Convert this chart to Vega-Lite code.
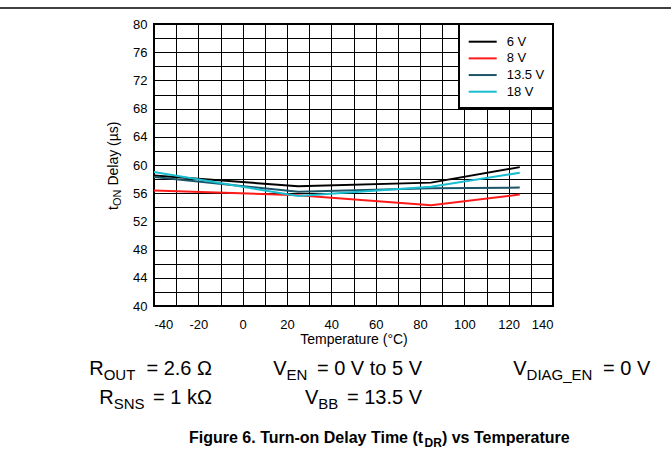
{
  "$schema": "https://vega.github.io/schema/vega-lite/v6.json",
  "width": 399,
  "height": 282,
  "autosize": {"type": "none"},
  "padding": {"left": 154, "top": 24, "right": 118, "bottom": 152},
  "background": "white",
  "config": {
    "font": "Liberation Sans",
    "view": {"stroke": "black", "strokeWidth": 2},
    "axis": {
      "domain": false,
      "grid": true,
      "gridColor": "black",
      "gridOpacity": 1,
      "gridWidth": 1,
      "ticks": false,
      "tickSize": 0,
      "labelColor": "black",
      "labelFontSize": 13,
      "labelOverlap": false,
      "titleColor": "black",
      "titleFontSize": 14,
      "titleFontWeight": "normal"
    },
    "axisX": {"tickCount": 18, "labelExpr": "datum.value % 20 === 0 ? '' + datum.value : ''", "labelPadding": 12, "titlePadding": 1},
    "axisY": {"tickCount": 20, "labelExpr": "datum.value % 4 === 0 ? '' + datum.value : ''", "labelPadding": 7},
    "text": {"color": "black"}
  },
  "layer": [
    {
      "data": {
        "values": [
          {"supply": "6 V", "temperature": -40, "delay": 58.5},
          {"supply": "6 V", "temperature": 25, "delay": 57.0},
          {"supply": "6 V", "temperature": 85, "delay": 57.5},
          {"supply": "6 V", "temperature": 125, "delay": 59.7},
          {"supply": "8 V", "temperature": -40, "delay": 56.4},
          {"supply": "8 V", "temperature": 25, "delay": 55.7},
          {"supply": "8 V", "temperature": 85, "delay": 54.3},
          {"supply": "8 V", "temperature": 125, "delay": 55.8},
          {"supply": "13.5 V", "temperature": -40, "delay": 58.3},
          {"supply": "13.5 V", "temperature": 25, "delay": 56.2},
          {"supply": "13.5 V", "temperature": 85, "delay": 56.7},
          {"supply": "13.5 V", "temperature": 125, "delay": 56.8},
          {"supply": "18 V", "temperature": -40, "delay": 59.0},
          {"supply": "18 V", "temperature": 25, "delay": 55.6},
          {"supply": "18 V", "temperature": 85, "delay": 56.9},
          {"supply": "18 V", "temperature": 125, "delay": 58.9}
        ]
      },
      "mark": {"type": "line", "strokeWidth": 2},
      "encoding": {
        "x": {
          "field": "temperature",
          "type": "quantitative",
          "scale": {"domain": [-40, 140], "nice": false, "zero": false},
          "axis": {"title": "Temperature (°C)", "tickCount": 18}
        },
        "y": {
          "field": "delay",
          "type": "quantitative",
          "scale": {"domain": [40, 80], "nice": false, "zero": false},
          "axis": {"title": null, "tickCount": 20}
        },
        "color": {
          "field": "supply",
          "type": "nominal",
          "sort": ["6 V", "8 V", "13.5 V", "18 V"],
          "scale": {
            "domain": ["6 V", "8 V", "13.5 V", "18 V"],
            "range": ["#000000", "#ff1a1a", "#1d5568", "#19bdd0"]
          },
          "legend": {
            "title": null,
            "orient": "top-right",
            "offset": 0,
            "fillColor": "white",
            "strokeColor": "black",
            "padding": 8.7,
            "symbolType": "M-1.75,0H1.75",
            "symbolSize": 256,
            "symbolStrokeWidth": 2,
            "symbolOffset": 6,
            "labelFontSize": 13,
            "labelColor": "black",
            "labelOffset": 15,
            "rowPadding": 0.67,
            "encode": {"legend": {"update": {"strokeWidth": {"value": 2}}}}
          }
        }
      }
    },
    {
      "data": {"values": [{}]},
      "mark": {"type": "rule", "color": "black", "strokeWidth": 1.5},
      "encoding": {
        "x": {"datum": -109.47, "axis": {"title": "Temperature (°C)", "tickCount": 18}},
        "x2": {"datum": 193.23},
        "y": {"datum": 82.27, "axis": {"title": null, "tickCount": 20}}
      }
    },
    {
      "data": {
        "values": [
          {"label": "R", "part": "r1a"},
          {"label": "OUT", "part": "r1b"},
          {"label": "= 2.6 Ω", "part": "r1c"},
          {"label": "V", "part": "r1d"},
          {"label": "EN", "part": "r1e"},
          {"label": "= 0 V to 5 V", "part": "r1f"},
          {"label": "V", "part": "r1g"},
          {"label": "DIAG_EN", "part": "r1h"},
          {"label": "= 0 V", "part": "r1i"},
          {"label": "R", "part": "r2a"},
          {"label": "SNS", "part": "r2b"},
          {"label": "= 1 kΩ", "part": "r2c"},
          {"label": "V", "part": "r2d"},
          {"label": "BB", "part": "r2e"},
          {"label": "= 13.5 V", "part": "r2f"},
          {"label": "Figure 6. Turn-on Delay Time (t", "part": "t1"},
          {"label": "DR", "part": "t2"},
          {"label": ") vs Temperature", "part": "t3"},
          {"label": "t", "part": "y1"},
          {"label": "ON", "part": "y2"},
          {"label": "Delay (µs)", "part": "y3"}
        ]
      },
      "layer": [
        {
          "transform": [{"filter": "datum.part === 'r1a'"}],
          "mark": {"type": "text", "align": "left", "baseline": "alphabetic", "fontSize": 20},
          "encoding": {"x": {"datum": -69.19}, "y": {"datum": 30.21}, "text": {"field": "label"}}
        },
        {
          "transform": [{"filter": "datum.part === 'r1b'"}],
          "mark": {"type": "text", "align": "left", "baseline": "alphabetic", "fontSize": 15},
          "encoding": {"x": {"datum": -62.69}, "y": {"datum": 29.5}, "text": {"field": "label"}}
        },
        {
          "transform": [{"filter": "datum.part === 'r1c'"}],
          "mark": {"type": "text", "align": "right", "baseline": "alphabetic", "fontSize": 20},
          "encoding": {"x": {"datum": -13.84}, "y": {"datum": 30.21}, "text": {"field": "label"}}
        },
        {
          "transform": [{"filter": "datum.part === 'r1d'"}],
          "mark": {"type": "text", "align": "left", "baseline": "alphabetic", "fontSize": 20},
          "encoding": {"x": {"datum": 13.82}, "y": {"datum": 30.21}, "text": {"field": "label"}}
        },
        {
          "transform": [{"filter": "datum.part === 'r1e'"}],
          "mark": {"type": "text", "align": "left", "baseline": "alphabetic", "fontSize": 15},
          "encoding": {"x": {"datum": 19.82}, "y": {"datum": 29.5}, "text": {"field": "label"}}
        },
        {
          "transform": [{"filter": "datum.part === 'r1f'"}],
          "mark": {"type": "text", "align": "right", "baseline": "alphabetic", "fontSize": 20},
          "encoding": {"x": {"datum": 80.9}, "y": {"datum": 30.21}, "text": {"field": "label"}}
        },
        {
          "transform": [{"filter": "datum.part === 'r1g'"}],
          "mark": {"type": "text", "align": "left", "baseline": "alphabetic", "fontSize": 20},
          "encoding": {"x": {"datum": 122.09}, "y": {"datum": 30.21}, "text": {"field": "label"}}
        },
        {
          "transform": [{"filter": "datum.part === 'r1h'"}],
          "mark": {"type": "text", "align": "left", "baseline": "alphabetic", "fontSize": 15},
          "encoding": {"x": {"datum": 128.09}, "y": {"datum": 29.5}, "text": {"field": "label"}}
        },
        {
          "transform": [{"filter": "datum.part === 'r1i'"}],
          "mark": {"type": "text", "align": "left", "baseline": "alphabetic", "fontSize": 20},
          "encoding": {"x": {"datum": 162.6}, "y": {"datum": 30.21}, "text": {"field": "label"}}
        },
        {
          "transform": [{"filter": "datum.part === 'r2a'"}],
          "mark": {"type": "text", "align": "left", "baseline": "alphabetic", "fontSize": 20},
          "encoding": {"x": {"datum": -64.68}, "y": {"datum": 26.1}, "text": {"field": "label"}}
        },
        {
          "transform": [{"filter": "datum.part === 'r2b'"}],
          "mark": {"type": "text", "align": "left", "baseline": "alphabetic", "fontSize": 15},
          "encoding": {"x": {"datum": -58.18}, "y": {"datum": 25.39}, "text": {"field": "label"}}
        },
        {
          "transform": [{"filter": "datum.part === 'r2c'"}],
          "mark": {"type": "text", "align": "right", "baseline": "alphabetic", "fontSize": 20},
          "encoding": {"x": {"datum": -13.84}, "y": {"datum": 26.1}, "text": {"field": "label"}}
        },
        {
          "transform": [{"filter": "datum.part === 'r2d'"}],
          "mark": {"type": "text", "align": "left", "baseline": "alphabetic", "fontSize": 20},
          "encoding": {"x": {"datum": 28.12}, "y": {"datum": 26.1}, "text": {"field": "label"}}
        },
        {
          "transform": [{"filter": "datum.part === 'r2e'"}],
          "mark": {"type": "text", "align": "left", "baseline": "alphabetic", "fontSize": 15},
          "encoding": {"x": {"datum": 34.12}, "y": {"datum": 25.39}, "text": {"field": "label"}}
        },
        {
          "transform": [{"filter": "datum.part === 'r2f'"}],
          "mark": {"type": "text", "align": "right", "baseline": "alphabetic", "fontSize": 20},
          "encoding": {"x": {"datum": 80.9}, "y": {"datum": 26.1}, "text": {"field": "label"}}
        },
        {
          "transform": [{"filter": "datum.part === 't1'"}],
          "mark": {"type": "text", "align": "left", "baseline": "alphabetic", "fontSize": 16, "fontWeight": "bold"},
          "encoding": {"x": {"datum": -24.21}, "y": {"datum": 20.57}, "text": {"field": "label"}}
        },
        {
          "transform": [{"filter": "datum.part === 't2'"}],
          "mark": {"type": "text", "align": "left", "baseline": "alphabetic", "fontSize": 12, "fontWeight": "bold"},
          "encoding": {"x": {"datum": 82.07}, "y": {"datum": 20.0}, "text": {"field": "label"}}
        },
        {
          "transform": [{"filter": "datum.part === 't3'"}],
          "mark": {"type": "text", "align": "left", "baseline": "alphabetic", "fontSize": 16, "fontWeight": "bold"},
          "encoding": {"x": {"datum": 89.88}, "y": {"datum": 20.57}, "text": {"field": "label"}}
        },
        {
          "transform": [{"filter": "datum.part === 'y1'"}],
          "mark": {"type": "text", "align": "left", "baseline": "alphabetic", "fontSize": 14, "angle": 270},
          "encoding": {"x": {"datum": -56.02}, "y": {"datum": 53.62}, "text": {"field": "label"}}
        },
        {
          "transform": [{"filter": "datum.part === 'y2'"}],
          "mark": {"type": "text", "align": "left", "baseline": "alphabetic", "fontSize": 11, "angle": 270},
          "encoding": {"x": {"datum": -54.67}, "y": {"datum": 54.18}, "text": {"field": "label"}}
        },
        {
          "transform": [{"filter": "datum.part === 'y3'"}],
          "mark": {"type": "text", "align": "left", "baseline": "alphabetic", "fontSize": 14, "angle": 270},
          "encoding": {"x": {"datum": -56.02}, "y": {"datum": 57.08}, "text": {"field": "label"}}
        }
      ]
    }
  ]
}
